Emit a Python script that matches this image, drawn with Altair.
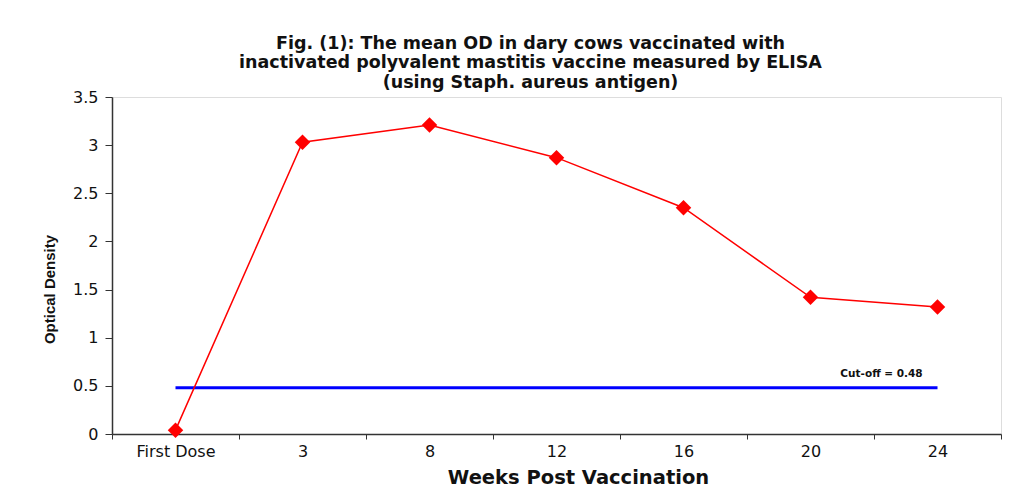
import altair as alt
import pandas as pd

weeks = ["First Dose", "3", "8", "12", "16", "20", "24"]
od_values = [0.04, 3.03, 3.21, 2.87, 2.35, 1.42, 1.32]
cutoff_value = 0.48
cutoff_weeks = ["First Dose", "24"]
cutoff_label = "Cut-off  = 0.48"
y_ticks = [0, 0.5, 1, 1.5, 2, 2.5, 3, 3.5]

df = pd.DataFrame({"week": weeks, "od": od_values})
cut_df = pd.DataFrame({"week": cutoff_weeks, "od": [cutoff_value] * len(cutoff_weeks)})
lab_df = pd.DataFrame({"week": [cutoff_weeks[-1]], "od": [cutoff_value], "label": [cutoff_label]})

WIDE = "DejaVu Sans"
FONT = "Liberation Sans"

x_enc = alt.X(
    "week:N",
    sort=weeks,
    scale=alt.Scale(domain=weeks, paddingInner=0, paddingOuter=0),
    axis=alt.Axis(
        title="Weeks Post Vaccination",
        labelAngle=0,
        labelFontSize=16,
        labelColor="#111",
        labelFont=WIDE,
        labelPadding=4,
        tickBand="extent",
        tickSize=5,
        tickColor="#333",
        domainColor="#333",
        domainWidth=1.5,
        titleFont=WIDE,
        titleFontSize=19.5,
        titleFontWeight="bold",
        titleColor="#111",
        titleX=466,
        titleY=43,
        titleBaseline="middle",
        titleAlign="center",
        grid=False,
    ),
)
y_enc = alt.Y(
    "od:Q",
    scale=alt.Scale(domain=[0, 3.5], nice=False),
    axis=alt.Axis(
        title="Optical Density",
        values=y_ticks,
        format="~g",
        labelFontSize=16,
        labelColor="#111",
        labelFont=WIDE,
        labelPadding=7,
        tickSize=7,
        tickColor="#333",
        domainColor="#333",
        domainWidth=1.5,
        titleFont=FONT,
        titleFontSize=15,
        titleFontWeight="bold",
        titleColor="#111",
        titleX=-63,
        titleY=192,
        titleBaseline="middle",
        titleAlign="center",
        grid=False,
    ),
)

od_line = alt.Chart(df).mark_line(color="#FF0000", strokeWidth=1.5).encode(x=x_enc, y=y_enc)
od_pts = alt.Chart(df).mark_point(
    shape="diamond", filled=True, color="#FF0000", size=240, opacity=1
).encode(x=x_enc, y=y_enc)
cut_line = alt.Chart(cut_df).mark_line(color="#0000FF", strokeWidth=3).encode(x=x_enc, y=y_enc)
cut_text = alt.Chart(lab_df).mark_text(
    font=WIDE, fontSize=10.5, fontWeight="bold", color="#111", dx=-56, dy=-14
).encode(x=x_enc, y=y_enc, text="label:N")

chart = (
    alt.layer(cut_line, od_line, od_pts, cut_text)
    .properties(
        width=889,
        height=337,
        autosize=alt.AutoSizeParams(type="none"),
        padding={"left": 104, "top": 89, "right": 2, "bottom": 55},
        title=alt.TitleParams(
            text=[
                "Fig. (1):  The mean OD in dary cows vaccinated with",
                "inactivated polyvalent mastitis vaccine measured by ELISA",
                "(using Staph. aureus antigen)",
            ],
            font=WIDE,
            fontSize=17.5,
            fontWeight="bold",
            color="#111",
            lineHeight=19.5,
            anchor="middle",
            dx=-26,
            offset=-2,
        ),
    )
    .configure_view(stroke="#888", strokeWidth=1.5)
    .configure(background="white")
)

chart.save("out.html", embed_options={"renderer": "svg", "actions": False})
